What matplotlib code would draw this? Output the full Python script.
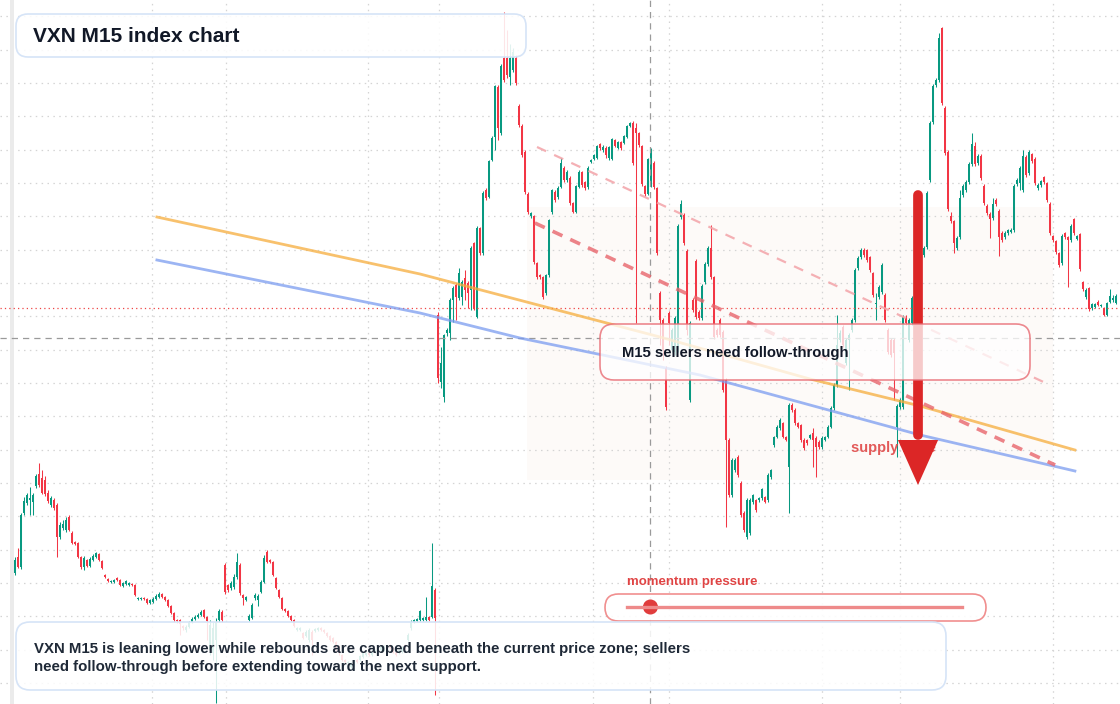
import numpy as np
import matplotlib
matplotlib.use("Agg")
from matplotlib import pyplot as plt
from matplotlib.patches import FancyBboxPatch, Circle, Rectangle
from matplotlib.lines import Line2D
from matplotlib.transforms import IdentityTransform

plt.rcParams['font.family'] = ['Liberation Sans', 'DejaVu Sans']

# VXN M15 candles (one every 15 minutes)
opens = [
    28.27, 28.43, 28.33, 28.87, 28.97, 29.00, 28.98, 29.14, 29.26, 29.22,
    29.20, 29.07, 28.95, 29.00, 28.95, 28.63, 28.72, 28.70, 28.83, 28.67,
    28.58, 28.57, 28.43, 28.33, 28.40, 28.34, 28.40, 28.43, 28.46, 28.39,
    28.25, 28.21, 28.18, 28.18, 28.22, 28.20, 28.14, 28.16, 28.15, 28.16,
    28.15, 28.01, 28.01, 28.02, 28.01, 27.97, 27.98, 28.01, 28.03, 28.06,
    28.03, 28.00, 27.94, 27.87, 27.80, 27.80, 27.74, 27.70, 27.73, 27.78,
    27.81, 27.83, 27.85, 27.90, 27.83, 27.50, 27.47, 27.60, 27.80, 27.88,
    28.35, 28.15, 28.12, 28.13, 28.23, 28.35, 28.05, 28.00, 27.80, 27.82,
    28.02, 28.00, 28.08, 28.18, 28.48, 28.40, 28.38, 28.22, 28.10, 28.02,
    27.91, 27.89, 27.84, 27.80, 27.70, 27.70, 27.67, 27.64, 27.60, 27.68,
    27.69, 27.70, 27.72, 27.70, 27.67, 27.64, 27.62, 27.58, 27.52, 27.45,
    27.40, 27.37, 27.33, 27.35, 27.40, 27.40, 27.43, 27.45, 27.47, 27.45,
    27.48, 27.48, 27.50, 27.50, 27.52, 27.55, 27.52, 27.48, 27.47, 27.48,
    27.55, 27.60, 27.72, 27.78, 27.79, 27.80, 27.80, 27.80, 27.83, 27.83,
    28.10, 30.85, 30.18, 30.03, 30.67, 30.67, 31.00, 31.15, 31.02, 31.03,
    31.22, 31.17, 31.10, 31.57, 30.83, 31.72, 31.47, 32.10, 32.03, 32.40,
    32.63, 33.13, 32.67, 33.42, 33.42, 33.23, 33.30, 33.42, 32.94, 32.74,
    32.48, 32.06, 31.84, 31.84, 31.37, 31.25, 31.23, 31.07, 31.25, 31.88,
    32.08, 32.03, 32.13, 32.32, 32.20, 32.22, 31.97, 31.88, 32.13, 32.28,
    32.18, 32.13, 32.38, 32.41, 32.42, 32.56, 32.50, 32.52, 32.42, 32.41,
    32.60, 32.52, 32.58, 32.57, 32.63, 32.74, 32.77, 32.72, 32.67, 32.54,
    32.14, 32.06, 32.15, 32.37, 32.12, 31.07, 30.80, 30.32, 30.87, 30.50,
    30.48, 30.50, 31.83, 31.85, 31.49, 30.00, 31.00, 31.39, 30.88, 30.82,
    31.18, 31.36, 31.52, 31.23, 30.70, 30.80, 30.68, 30.20, 29.60, 29.05,
    29.30, 29.43, 29.17, 28.87, 28.63, 28.67, 28.98, 29.00, 29.00, 29.02,
    29.03, 29.00, 29.23, 29.55, 29.63, 29.72, 29.77, 29.63, 29.33, 29.95,
    29.90, 29.77, 29.75, 29.60, 29.60, 29.62, 29.67, 29.62, 29.58, 29.53,
    29.60, 29.63, 29.73, 29.92, 30.15, 30.60, 30.73, 30.37, 30.60, 30.70,
    30.80, 31.32, 31.43, 31.50, 31.50, 31.43, 31.27, 30.96, 31.03, 31.08,
    31.05, 30.70, 30.60, 30.60, 29.73, 29.93, 29.93, 30.82, 30.60, 30.77,
    31.00, 31.15, 31.17, 31.45, 31.53, 32.20, 32.78, 33.15, 33.20, 33.72,
    32.92, 32.48, 31.84, 31.79, 31.52, 31.63, 32.05, 32.10, 32.18, 32.36,
    32.54, 32.37, 32.44, 32.14, 31.94, 31.86, 31.82, 32.00, 31.89, 31.67,
    31.63, 31.67, 31.68, 31.70, 32.16, 32.17, 32.10, 32.43, 32.27, 32.46,
    32.41, 32.12, 32.15, 32.23, 32.17, 31.96, 31.64, 31.59, 31.47, 31.37,
    31.67, 31.63, 31.60, 31.81, 31.61, 31.66, 31.18, 31.03, 31.12, 30.92,
    30.93, 30.98, 30.94, 30.92, 30.85, 30.98, 31.00, 30.97,
]
closes = [
    28.40, 28.33, 28.85, 28.99, 29.05, 29.02, 29.05, 29.24, 29.15, 29.07,
    29.06, 28.99, 29.02, 28.92, 28.63, 28.75, 28.76, 28.80, 28.70, 28.57,
    28.56, 28.43, 28.33, 28.42, 28.34, 28.41, 28.44, 28.47, 28.40, 28.32,
    28.23, 28.19, 28.19, 28.20, 28.20, 28.15, 28.17, 28.19, 28.17, 28.15,
    28.05, 28.02, 28.02, 28.01, 27.97, 28.00, 28.01, 28.04, 28.06, 28.03,
    28.00, 27.94, 27.87, 27.80, 27.79, 27.76, 27.72, 27.73, 27.78, 27.81,
    27.83, 27.85, 27.88, 27.83, 27.79, 27.75, 27.72, 27.78, 27.89, 27.80,
    28.08, 28.10, 28.17, 28.23, 28.38, 28.07, 28.02, 28.03, 27.84, 27.95,
    28.05, 28.04, 28.18, 28.42, 28.38, 28.38, 28.25, 28.12, 28.03, 27.91,
    27.89, 27.84, 27.80, 27.74, 27.72, 27.72, 27.62, 27.68, 27.70, 27.60,
    27.71, 27.72, 27.70, 27.68, 27.64, 27.60, 27.58, 27.50, 27.47, 27.40,
    27.38, 27.38, 27.37, 27.38, 27.38, 27.44, 27.47, 27.47, 27.45, 27.48,
    27.50, 27.52, 27.53, 27.54, 27.54, 27.52, 27.48, 27.45, 27.50, 27.52,
    27.52, 27.65, 27.78, 27.80, 27.81, 27.89, 27.82, 27.83, 27.80, 28.14,
    27.82, 30.22, 30.37, 30.65, 30.70, 31.00, 31.12, 31.03, 31.27, 31.18,
    31.10, 31.07, 31.52, 30.92, 31.72, 31.47, 32.07, 32.02, 32.39, 32.62,
    33.14, 32.72, 33.34, 33.20, 33.25, 33.42, 33.48, 33.17, 32.75, 32.45,
    32.08, 31.88, 31.87, 31.38, 31.23, 31.23, 31.03, 31.25, 31.80, 32.10,
    32.00, 32.12, 32.37, 32.20, 32.28, 31.97, 31.88, 32.14, 32.28, 32.15,
    32.12, 32.32, 32.40, 32.45, 32.54, 32.52, 32.53, 32.45, 32.53, 32.61,
    32.54, 32.58, 32.52, 32.64, 32.74, 32.77, 32.37, 32.67, 32.55, 32.16,
    32.06, 32.41, 32.51, 32.13, 31.47, 30.80, 30.50, 29.93, 30.77, 30.70,
    30.82, 31.74, 31.96, 31.57, 30.70, 30.77, 30.90, 30.83, 30.82, 31.14,
    31.36, 31.52, 31.23, 30.63, 30.65, 30.65, 30.10, 29.60, 29.05, 29.40,
    29.40, 29.25, 28.85, 28.70, 29.00, 29.00, 29.05, 28.90, 29.02, 29.11,
    28.98, 29.25, 29.30, 29.63, 29.73, 29.80, 29.63, 29.60, 29.95, 29.90,
    29.77, 29.73, 29.60, 29.52, 29.57, 29.65, 29.60, 29.53, 29.53, 29.62,
    29.63, 29.73, 29.92, 30.15, 30.55, 30.67, 30.55, 30.60, 30.65, 30.80,
    31.30, 31.42, 31.50, 31.45, 31.40, 31.30, 31.05, 30.97, 31.13, 31.35,
    30.80, 30.48, 30.45, 30.47, 29.94, 30.00, 30.83, 30.77, 30.80, 31.02,
    31.15, 31.30, 31.53, 31.52, 32.07, 32.77, 33.14, 33.20, 33.62, 32.97,
    32.47, 31.91, 31.79, 31.57, 31.62, 32.02, 32.14, 32.18, 32.36, 32.56,
    32.36, 32.44, 32.22, 31.97, 31.87, 31.81, 31.96, 31.96, 31.63, 31.60,
    31.67, 31.70, 31.70, 32.14, 32.20, 32.32, 32.44, 32.25, 32.48, 32.39,
    32.17, 32.15, 32.19, 32.18, 32.00, 31.67, 31.60, 31.48, 31.35, 31.64,
    31.63, 31.60, 31.74, 31.67, 31.64, 31.31, 31.11, 31.10, 30.91, 30.96,
    30.96, 30.95, 30.95, 30.85, 30.97, 31.04, 31.02, 31.04,
]
highs = [
    28.43, 28.52, 28.87, 29.03, 29.07, 29.13, 29.07, 29.26, 29.37, 29.30,
    29.24, 29.10, 29.04, 29.02, 28.97, 28.78, 28.80, 28.83, 28.85, 28.69,
    28.59, 28.58, 28.44, 28.44, 28.41, 28.43, 28.46, 28.48, 28.47, 28.40,
    28.26, 28.22, 28.20, 28.21, 28.23, 28.21, 28.18, 28.20, 28.18, 28.17,
    28.16, 28.03, 28.03, 28.03, 28.02, 28.01, 28.03, 28.06, 28.08, 28.07,
    28.04, 28.01, 27.95, 27.88, 27.81, 27.81, 27.75, 27.75, 27.79, 27.83,
    27.85, 27.87, 27.90, 27.91, 27.84, 27.80, 27.78, 27.82, 27.91, 27.90,
    28.37, 28.16, 28.19, 28.26, 28.47, 28.37, 28.06, 28.04, 27.86, 27.97,
    28.07, 28.06, 28.20, 28.45, 28.50, 28.41, 28.39, 28.23, 28.11, 28.03,
    27.92, 27.90, 27.85, 27.81, 27.73, 27.73, 27.68, 27.70, 27.72, 27.70,
    27.72, 27.73, 27.73, 27.71, 27.68, 27.65, 27.63, 27.59, 27.55, 27.46,
    27.41, 27.39, 27.38, 27.40, 27.41, 27.45, 27.48, 27.48, 27.48, 27.50,
    27.51, 27.53, 27.54, 27.55, 27.55, 27.56, 27.53, 27.49, 27.51, 27.54,
    27.56, 27.67, 27.80, 27.81, 27.82, 27.90, 27.83, 28.03, 27.84, 28.57,
    28.12, 30.88, 30.53, 30.66, 30.72, 31.02, 31.14, 31.17, 31.32, 31.20,
    31.30, 31.19, 31.54, 31.58, 31.74, 31.73, 32.09, 32.12, 32.40, 32.64,
    33.15, 33.15, 33.36, 33.88, 33.70, 33.56, 33.52, 33.45, 32.96, 32.76,
    32.50, 32.08, 31.88, 31.85, 31.38, 31.26, 31.24, 31.26, 31.81, 32.11,
    32.10, 32.14, 32.42, 32.34, 32.30, 32.24, 31.98, 32.15, 32.30, 32.29,
    32.19, 32.34, 32.41, 32.46, 32.55, 32.57, 32.55, 32.54, 32.54, 32.62,
    32.61, 32.59, 32.59, 32.65, 32.75, 32.78, 32.79, 32.77, 32.68, 32.55,
    32.15, 32.42, 32.52, 32.39, 32.13, 31.09, 30.82, 30.34, 30.89, 30.72,
    30.84, 31.76, 32.00, 31.87, 31.51, 30.79, 31.02, 31.41, 30.90, 31.16,
    31.38, 31.54, 31.75, 31.24, 30.72, 30.82, 30.70, 30.22, 29.62, 29.42,
    29.42, 29.45, 29.19, 28.89, 29.02, 29.02, 29.06, 29.01, 29.03, 29.12,
    29.04, 29.27, 29.31, 29.64, 29.75, 29.82, 29.78, 29.64, 29.97, 29.97,
    29.92, 29.78, 29.76, 29.62, 29.61, 29.66, 29.72, 29.64, 29.60, 29.64,
    29.64, 29.75, 29.94, 30.17, 30.85, 30.70, 30.75, 30.62, 30.67, 30.82,
    31.32, 31.44, 31.52, 31.52, 31.51, 31.44, 31.28, 31.07, 31.15, 31.37,
    31.07, 30.72, 30.62, 30.62, 29.96, 30.02, 30.85, 30.85, 30.82, 31.04,
    31.17, 31.32, 31.55, 31.54, 32.09, 32.79, 33.16, 33.22, 33.67, 33.73,
    32.94, 32.50, 31.88, 31.80, 31.64, 32.10, 32.16, 32.20, 32.38, 32.67,
    32.58, 32.46, 32.46, 32.16, 31.96, 31.88, 32.02, 32.02, 31.91, 31.69,
    31.69, 31.71, 31.72, 32.16, 32.22, 32.34, 32.50, 32.45, 32.50, 32.47,
    32.43, 32.17, 32.20, 32.24, 32.18, 31.98, 31.65, 31.60, 31.48, 31.66,
    31.68, 31.64, 31.76, 31.82, 31.65, 31.67, 31.19, 31.12, 31.13, 30.97,
    30.97, 31.00, 30.96, 30.93, 30.98, 31.11, 31.05, 31.06,
]
lows = [
    28.25, 28.32, 28.31, 28.85, 28.95, 28.85, 28.85, 29.12, 29.13, 29.06,
    29.04, 28.97, 28.93, 28.90, 28.43, 28.61, 28.70, 28.68, 28.69, 28.56,
    28.55, 28.42, 28.31, 28.30, 28.33, 28.33, 28.39, 28.42, 28.39, 28.31,
    28.22, 28.18, 28.17, 28.17, 28.19, 28.14, 28.13, 28.15, 28.14, 28.14,
    28.04, 28.00, 28.00, 28.00, 27.96, 27.96, 27.97, 28.00, 28.02, 28.02,
    27.99, 27.93, 27.86, 27.78, 27.77, 27.65, 27.70, 27.68, 27.72, 27.77,
    27.80, 27.82, 27.84, 27.82, 27.60, 27.45, 27.40, 26.97, 27.78, 27.78,
    28.06, 28.08, 28.10, 28.11, 28.21, 28.05, 27.95, 27.99, 27.79, 27.81,
    28.00, 27.94, 28.07, 28.17, 28.37, 28.37, 28.24, 28.11, 28.02, 27.90,
    27.88, 27.83, 27.79, 27.73, 27.69, 27.69, 27.61, 27.63, 27.58, 27.45,
    27.68, 27.69, 27.69, 27.67, 27.63, 27.59, 27.57, 27.48, 27.45, 27.39,
    27.37, 27.36, 27.32, 27.34, 27.37, 27.39, 27.42, 27.44, 27.44, 27.44,
    27.47, 27.47, 27.49, 27.49, 27.51, 27.51, 27.47, 27.44, 27.46, 27.47,
    27.51, 27.59, 27.70, 27.77, 27.78, 27.79, 27.79, 27.79, 27.79, 27.82,
    27.05, 30.17, 30.12, 29.98, 30.64, 30.60, 30.78, 30.80, 31.00, 30.95,
    31.00, 30.92, 30.90, 30.90, 30.82, 31.45, 31.45, 32.00, 32.02, 32.39,
    32.50, 32.60, 32.65, 33.18, 33.22, 33.15, 33.28, 33.15, 32.73, 32.43,
    32.06, 31.86, 31.82, 31.36, 31.21, 31.21, 31.01, 31.05, 31.23, 31.86,
    31.98, 32.01, 32.12, 32.18, 32.18, 31.95, 31.87, 31.87, 32.12, 32.13,
    32.10, 32.11, 32.37, 32.40, 32.41, 32.50, 32.48, 32.42, 32.40, 32.40,
    32.53, 32.51, 32.50, 32.56, 32.62, 32.73, 32.35, 30.77, 32.53, 32.14,
    32.04, 32.05, 32.13, 32.11, 31.45, 30.55, 30.40, 29.90, 30.55, 30.48,
    30.45, 30.48, 31.81, 31.55, 30.65, 29.98, 30.88, 30.81, 30.80, 30.80,
    31.16, 31.34, 31.21, 30.61, 30.63, 30.63, 30.08, 28.73, 29.03, 29.03,
    29.28, 29.23, 28.83, 28.68, 28.61, 28.65, 28.96, 28.88, 28.98, 29.00,
    28.97, 28.98, 29.21, 29.53, 29.62, 29.70, 29.62, 29.59, 28.87, 29.88,
    29.75, 29.72, 29.58, 29.50, 29.55, 29.61, 29.33, 29.23, 29.51, 29.51,
    29.59, 29.62, 29.72, 29.90, 30.13, 30.58, 30.53, 30.35, 30.10, 30.68,
    30.78, 31.30, 31.41, 31.43, 31.38, 31.28, 31.03, 30.80, 31.01, 31.06,
    30.78, 30.46, 30.43, 30.00, 29.43, 29.91, 29.91, 30.75, 30.58, 30.75,
    30.98, 31.13, 31.15, 31.43, 31.51, 32.18, 32.76, 33.13, 33.18, 32.95,
    32.45, 31.89, 31.77, 31.47, 31.50, 31.61, 32.03, 32.08, 32.16, 32.34,
    32.34, 32.35, 32.20, 31.95, 31.85, 31.62, 31.80, 31.94, 31.44, 31.58,
    31.61, 31.65, 31.67, 31.68, 32.14, 32.10, 32.08, 32.23, 32.25, 32.37,
    32.15, 32.10, 32.13, 32.16, 31.98, 31.65, 31.58, 31.46, 31.33, 31.35,
    31.61, 31.13, 31.58, 31.65, 31.60, 31.29, 31.09, 31.01, 30.89, 30.90,
    30.92, 30.94, 30.93, 30.84, 30.84, 30.97, 30.98, 30.96,
]

# overlays, x in bar numbers, y in VXN points
slow_avg_x = [47.3, 135, 215, 265, 301.7, 353.3]
slow_avg_y = [31.83, 31.26, 30.63, 30.21, 29.94, 29.50]
fast_avg_x = [47.3, 135, 168.3, 228.3, 301.7, 353.3]
fast_avg_y = [31.40, 30.87, 30.62, 30.25, 29.65, 29.29]
upper_trend_x = [174, 345]
upper_trend_y = [32.53, 30.15]
lower_trend_x = [173.3, 346.7]
lower_trend_y = [31.77, 29.35]
zone_x = [170.7, 346]
zone_y = [29.20, 31.93]
cross_x = 211.7
cross_y = 30.62
last_price = 30.92
arrow_x = 301
arrow_from = 32.05
arrow_to = 29.15
supply_label = "supply zone"
momentum = 0.07

title = "VXN M15 index chart"
callout = "M15 sellers need follow-through"
note = ("VXN M15 is leaning lower while rebounds are capped beneath the current price zone; sellers\n"
        "need follow-through before extending toward the next support.")

assert len(opens) == len(closes) == len(highs) == len(lows)

GREEN = "#089981"
RED = "#f23645"
W, H = 1120, 704

fig = plt.figure(figsize=(W / 100, H / 100), dpi=100)
fig.patch.set_facecolor("white")
ax = fig.add_axes([0, 0, 1, 1])
ax.set_axis_off()
ax.set_xlim(-5, 368.33)
ax.set_ylim(26.96, 34.0)

# grid
for gy in np.arange(33.837, 27.0, -1 / 3):
    ax.axhline(gy, color="#d4d4d4", lw=0.9, dashes=(1.2, 3.5), zorder=1)
for gx in [45.7, 70.3, 117.7, 141.3, 192.7, 218, 269, 295, 346]:
    ax.axvline(gx, color="#d4d4d4", lw=0.9, dashes=(1.2, 3.5), zorder=1)
ax.axvspan(-1.67, -0.33, color="#ebebeb", lw=0, zorder=1)

# zone
ax.add_patch(Rectangle((zone_x[0], zone_y[0]), zone_x[1] - zone_x[0], zone_y[1] - zone_y[0],
                       facecolor="#f8e6da", alpha=0.18, lw=0, zorder=0.5))

# candles
o = np.array(opens)
c = np.array(closes)
idx = np.arange(len(c))
cols = np.where(c >= o, GREEN, RED)
ax.vlines(idx, lows, highs, colors=cols, lw=0.75, zorder=2)
ax.bar(idx, np.maximum(np.abs(c - o), 0.012), bottom=np.minimum(o, c), width=0.88,
       color=cols, lw=0, zorder=2.1)

# crosshair and last price
ax.axvline(cross_x, color="#9a9a9a", lw=0.9, dashes=(5, 4), zorder=2.5)
ax.axhline(cross_y, color="#9a9a9a", lw=0.9, dashes=(5, 4), zorder=2.5)
ax.axhline(last_price, color="#ef4444", lw=0.9, dashes=(1, 2.5), zorder=2.5)

# averages and trend lines
ax.plot(slow_avg_x, slow_avg_y, color="#f6ad3c", lw=2.0, alpha=0.75, zorder=3)
ax.plot(fast_avg_x, fast_avg_y, color="#7b9cf0", lw=2.0, alpha=0.75, zorder=3)
ax.plot(upper_trend_x, upper_trend_y, color="#f3a3a8", lw=1.6, alpha=0.85, dashes=(4.5, 4), zorder=3)
ax.plot(lower_trend_x, lower_trend_y, color="#e8656c", lw=2.6, alpha=0.8, dashes=(3, 2.4), zorder=3)

ax.text(278.7, 29.52, supply_label, color="#e04848", fontsize=10.5, fontweight="bold",
        va="center", ha="left", alpha=0.9, zorder=4)

# arrow
ax.plot([arrow_x, arrow_x], [arrow_from, arrow_to + 0.5], color="#dc2626", lw=7,
        solid_capstyle="round", zorder=5)
ax.fill([arrow_x - 6.7, arrow_x + 6.7, arrow_x], [arrow_to + 0.45, arrow_to + 0.45, arrow_to],
        color="#dc2626", lw=0, zorder=5)


def box(left, top, right, bottom, r, fc, ec, lw=1.2):
    p = FancyBboxPatch((left, H - bottom), right - left, bottom - top,
                       boxstyle=f"round,pad=0,rounding_size={r}",
                       transform=IdentityTransform(), facecolor=fc, edgecolor=ec, lw=lw)
    fig.add_artist(p)


def label(x, y, s, **kw):
    fig.text(x, H - y, s, transform=IdentityTransform(), **kw)


box(16, 14, 526, 57, 12, (1, 1, 1, 0.88), "#d6e4f7")
label(33, 36, title, fontsize=15, fontweight="bold", color="#111827", va="center")

box(600, 324, 1030, 380, 14, (1, 1, 1, 0.76), (0.91, 0.42, 0.45, 0.8))
label(622, 353, callout, fontsize=10.7, fontweight="bold", color="#111827", va="center")

label(627, 582, "momentum pressure", fontsize=9.5, fontweight="bold", color="#e04444", va="center")
box(605, 594, 986, 621, 13.5, (1, 1, 1, 0.9), (0.93, 0.45, 0.45, 0.8))
fig.add_artist(Line2D([627, 962], [H - 607, H - 607], transform=IdentityTransform(),
                      color="#ee8a8a", lw=2.4))
fig.add_artist(Circle((627 + momentum * (962 - 627), H - 607), 6.8,
                      transform=IdentityTransform(), color="#e03c3c"))

box(16, 622, 946, 690, 14, (1, 1, 1, 0.86), "#d6e4f7")
label(34, 658, note, fontsize=10.8, fontweight="bold", color="#1f2937", va="center",
      linespacing=1.38)

fig.savefig("out.png", dpi=100)
